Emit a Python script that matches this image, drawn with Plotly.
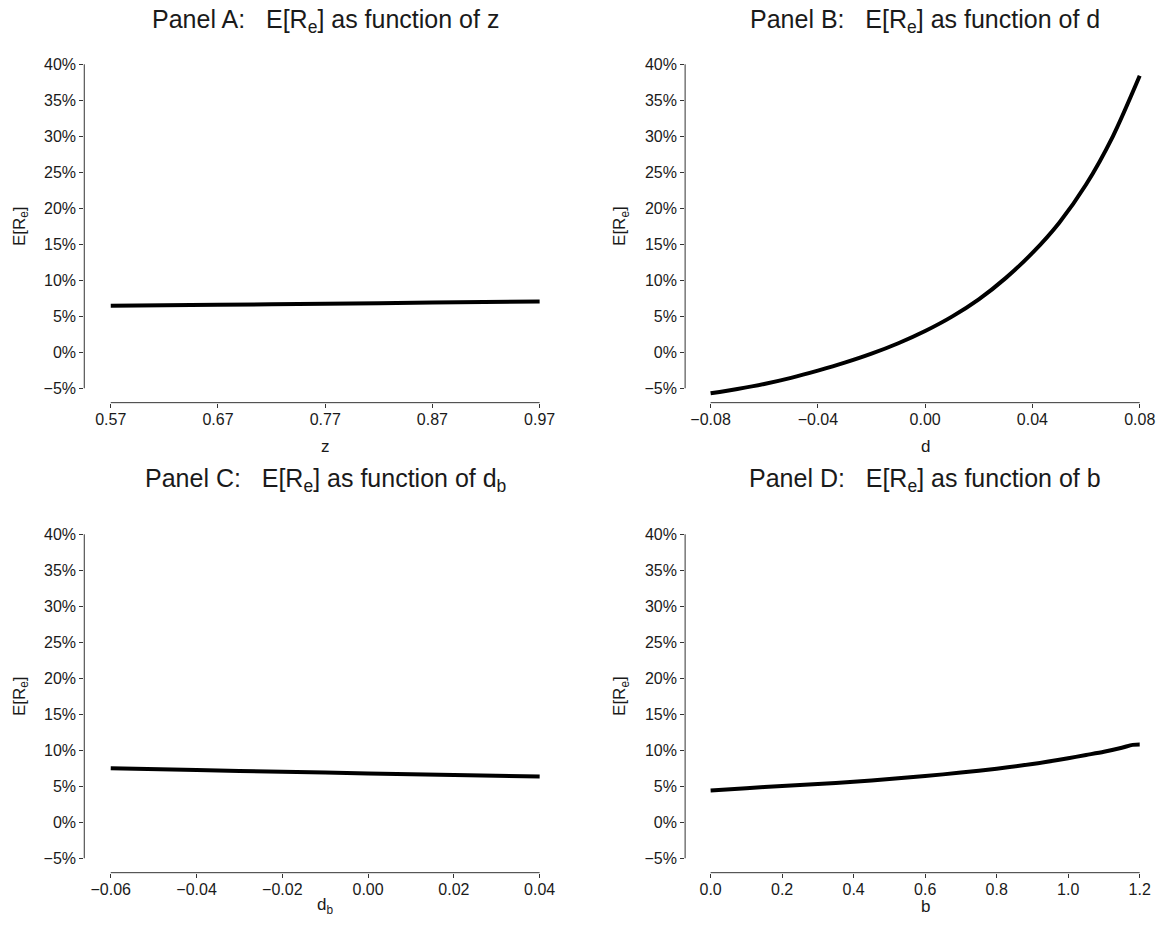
import plotly.graph_objects as go

# ---- data ----
z_vals = [0.57, 0.67, 0.77, 0.87, 0.97]
re_z = [6.45, 6.60, 6.75, 6.90, 7.05]

d_vals = [-0.08, -0.07, -0.06, -0.05, -0.04, -0.03, -0.02, -0.01, 0.00,
          0.01, 0.02, 0.03, 0.04, 0.05, 0.06, 0.07, 0.08]
re_d = [-5.7, -5.1, -4.4, -3.55, -2.55, -1.45, -0.2, 1.25, 2.95,
        4.95, 7.35, 10.3, 13.8, 18.0, 23.3, 30.0, 38.4]

db_vals = [-0.06, -0.04, -0.02, 0.00, 0.02, 0.04]
re_db = [7.5, 7.25, 7.02, 6.79, 6.57, 6.35]

b_vals = [0.0, 0.1, 0.2, 0.3, 0.4, 0.5, 0.6, 0.7, 0.8, 0.9, 1.0, 1.05, 1.1, 1.15, 1.18, 1.2]
re_b = [4.42, 4.72, 5.05, 5.32, 5.62, 6.0, 6.42, 6.9, 7.45, 8.1, 8.9, 9.35, 9.8, 10.35, 10.75, 10.8]

y_ticks = [-5, 0, 5, 10, 15, 20, 25, 30, 35, 40]
z_ticks = [0.57, 0.67, 0.77, 0.87, 0.97]
d_ticks = [-0.08, -0.04, 0.00, 0.04, 0.08]
db_ticks = [-0.06, -0.04, -0.02, 0.00, 0.02, 0.04]
b_ticks = [0.0, 0.2, 0.4, 0.6, 0.8, 1.0, 1.2]

SP = "\u00a0\u00a0\u00a0"
titles = ["Panel A:" + SP + "E[R<sub>e</sub>] as function of z",
          "Panel B:" + SP + "E[R<sub>e</sub>] as function of d",
          "Panel C:" + SP + "E[R<sub>e</sub>] as function of d<sub>b</sub>",
          "Panel D:" + SP + "E[R<sub>e</sub>] as function of b"]
x_titles = ["z", "d", "d<sub>b</sub>", "b"]
y_title = "E[R<sub>e</sub>]"

W, H = 1174, 945
FONT = "Liberation Sans, Arial, sans-serif"
AX = "#333333"
TXT = "#1a1a1a"
TICK_FS, TITLE_FS, LABEL_FS = 16, 25, 17


def fx(px):
    return px / W


def fy(px):
    return 1 - px / H


def fmt(v, spec):
    return format(v, spec).replace("-", "\u2212")


panels = [
    dict(x=z_vals, y=re_z, ticks=z_ticks, fmt=".2f", xr=[0.5453, 0.9753]),
    dict(x=d_vals, y=re_d, ticks=d_ticks, fmt=".2f", xr=[-0.0895, 0.0824]),
    dict(x=db_vals, y=re_db, ticks=db_ticks, fmt=".2f", xr=[-0.06617, 0.04132]),
    dict(x=b_vals, y=re_b, ticks=b_ticks, fmt=".1f", xr=[-0.0713, 1.218]),
]

yrange = [-7.0, 40.7]


def ydom(y40, ym5):
    s = (ym5 - y40) / 45.0
    return [fy(ym5 + 2.0 * s), fy(y40 - 0.7 * s)]


xdoms = [[fx(85), fx(550)], [fx(691), fx(1156)]]
ydoms = [ydom(61.5, 386.5), ydom(533, 858)]
title_y = [fy(18), fy(479)]
xtitle_y = [fy(445), fy(906)]
ytitle_x = [fx(21), fx(627)]

fig = go.Figure()
layout = dict(
    width=W, height=H,
    margin=dict(l=0, r=0, t=0, b=0),
    paper_bgcolor="white", plot_bgcolor="white",
    showlegend=False,
    font=dict(family=FONT, size=TICK_FS, color=TXT),
)
shapes = []
annotations = []

for i, p in enumerate(panels):
    row, col = divmod(i, 2)
    n = "" if i == 0 else str(i + 1)
    xa, ya = "x" + n, "y" + n
    fig.add_trace(go.Scatter(
        x=p["x"], y=p["y"], mode="lines", xaxis=xa, yaxis=ya,
        line=dict(color="black", width=4, shape="spline", smoothing=0.8),
        hoverinfo="skip"))
    layout["xaxis" + n] = dict(
        domain=xdoms[col], anchor=ya, range=p["xr"],
        tickmode="array", tickvals=p["ticks"],
        ticktext=[fmt(v, p["fmt"]) for v in p["ticks"]],
        ticks="outside", ticklen=4, tickwidth=1, tickcolor=AX,
        ticklabelstandoff=-2,
        showline=False, showgrid=False, zeroline=False,
        tickfont=dict(family=FONT, size=TICK_FS, color=TXT),
    )
    layout["yaxis" + n] = dict(
        domain=ydoms[row], anchor=xa, range=yrange,
        tickmode="array", tickvals=y_ticks,
        ticktext=[fmt(v, "d") + "%" for v in y_ticks],
        ticks="outside", ticklen=4, tickwidth=1, tickcolor=AX,
        ticklabelstandoff=0,
        showline=False, showgrid=False, zeroline=False,
        tickfont=dict(family=FONT, size=TICK_FS, color=TXT),
    )
    # trimmed spines
    shapes.append(dict(type="line", xref=xa + " domain", yref=ya,
                       x0=0, x1=0, y0=min(y_ticks), y1=max(y_ticks),
                       line=dict(color=AX, width=1)))
    shapes.append(dict(type="line", xref=xa, yref=ya + " domain",
                       x0=min(p["ticks"]), x1=max(p["ticks"]), y0=0, y1=0,
                       line=dict(color=AX, width=1)))
    xmid = (min(p["ticks"]) + max(p["ticks"])) / 2
    annotations.append(dict(
        text=titles[i], xref=xa, yref="paper",
        x=xmid, y=title_y[row],
        xanchor="center", yanchor="middle", showarrow=False,
        font=dict(family=FONT, size=TITLE_FS, color=TXT)))
    annotations.append(dict(
        text=x_titles[i], xref=xa, yref="paper",
        x=xmid, y=xtitle_y[row],
        xanchor="center", yanchor="middle", showarrow=False,
        font=dict(family=FONT, size=LABEL_FS, color=TXT)))
    annotations.append(dict(
        text=y_title, xref="paper", yref=ya,
        x=ytitle_x[col], y=17.5, textangle=-90,
        xanchor="center", yanchor="middle", showarrow=False,
        font=dict(family=FONT, size=LABEL_FS, color=TXT)))

layout["shapes"] = shapes
layout["annotations"] = annotations
fig.update_layout(**layout)
fig.write_html(
    "out.html",
    config={"displayModeBar": False},
    post_script="document.documentElement.style.margin='0';"
                "document.body.style.margin='0';"
                "document.body.style.overflow='hidden';",
)
